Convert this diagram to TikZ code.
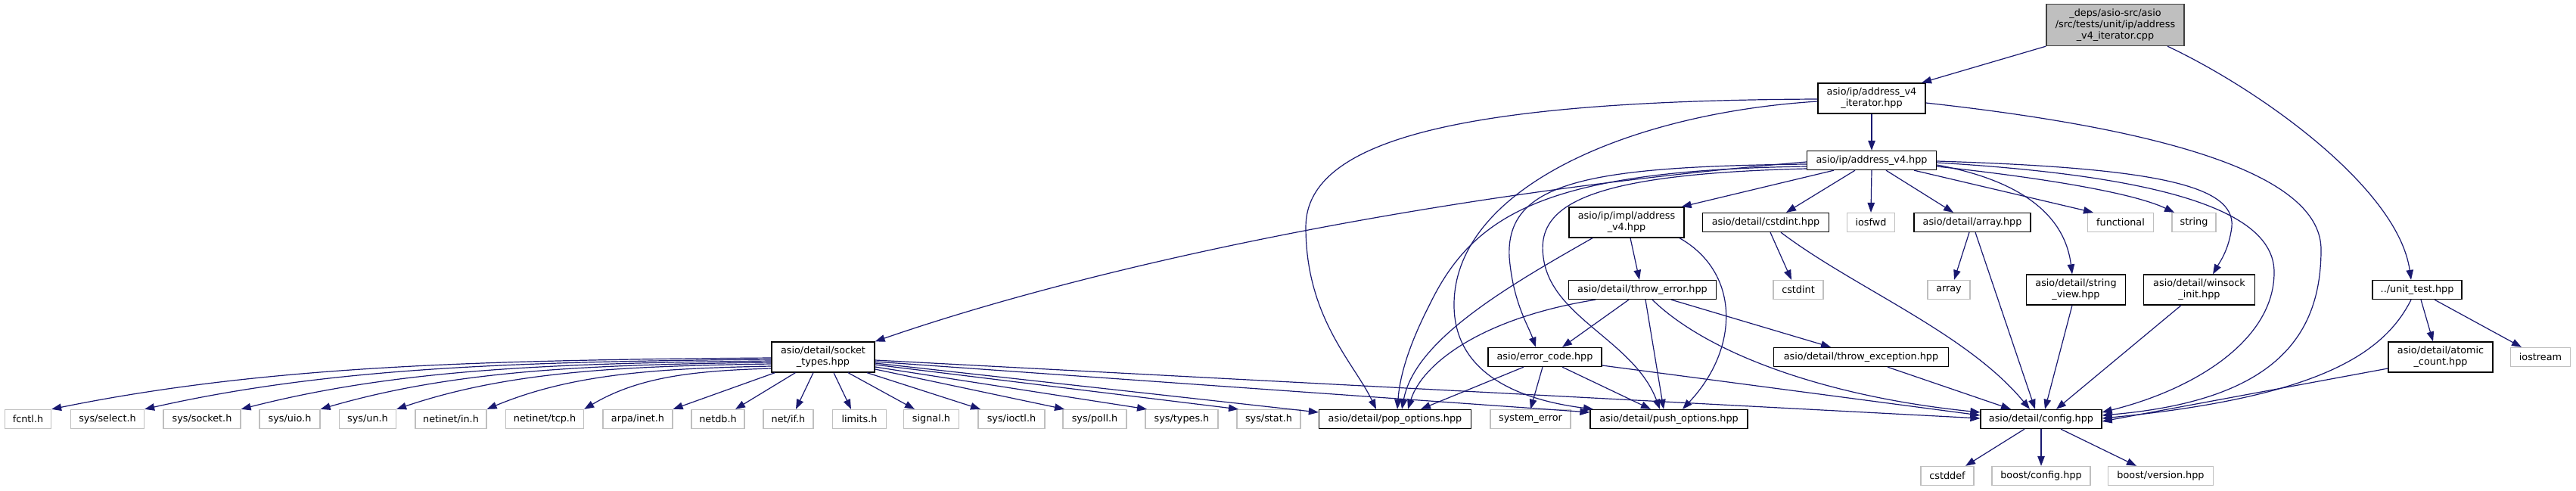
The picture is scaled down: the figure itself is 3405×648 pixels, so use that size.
\documentclass[tikz,border=0pt]{standalone}
\usepackage{fontspec}
\setmainfont{DejaVu Sans}
\usetikzlibrary{arrows.meta}
\definecolor{edgeblue}{HTML}{191970}
\definecolor{sysgray}{HTML}{BFBFBF}

\begin{document}
\begin{tikzpicture}[x=1pt, y=-1pt,
  font=\fontsize{12.8}{15}\selectfont,
  hdr/.style={draw=black, fill=white, line width=1.3pt, inner sep=0pt, minimum height=25pt, align=center},
  sysh/.style={hdr, draw=sysgray},
  rootf/.style={hdr, fill=sysgray, draw=black!75},
  incl/.style={draw=edgeblue, line width=1.2pt, -{Triangle[length=13pt, width=9.5pt]}}]

\useasboundingbox (0,0) rectangle (3405,648);

\node[rootf, minimum width=182pt, minimum height=55pt] (root) at (2796,33) {\_deps/asio-src/asio\\/src/tests/unit/ip/address\\\_v4\_iterator.cpp};

\node[hdr, minimum width=142pt, minimum height=40pt] (iter) at (2474,130) {asio/ip/address\_v4\\\_iterator.hpp};
\node[hdr, minimum width=171pt] (vfour) at (2474,212) {asio/ip/address\_v4.hpp};

\node[hdr, minimum width=152pt, minimum height=40pt] (impl) at (2150,294) {asio/ip/impl/address\\\_v4.hpp};
\node[hdr, minimum width=167pt] (cstdinth) at (2334,294) {asio/detail/cstdint.hpp};
\node[sysh, minimum width=63pt] (iosfwd) at (2473,294) {iosfwd};
\node[hdr, minimum width=154pt] (arrayh) at (2607,294) {asio/detail/array.hpp};
\node[sysh, minimum width=87pt] (functional) at (2803,294) {functional};
\node[sysh, minimum width=58pt] (string) at (2900,294) {string};

\node[hdr, minimum width=195pt] (throwerr) at (2171,383) {asio/detail/throw\_error.hpp};
\node[sysh, minimum width=66pt] (cstdint) at (2377,383) {cstdint};
\node[sysh, minimum width=56pt] (array) at (2576,383) {array};
\node[hdr, minimum width=131pt, minimum height=40pt] (strview) at (2744,383) {asio/detail/string\\\_view.hpp};
\node[hdr, minimum width=147pt, minimum height=40pt] (winsock) at (2907,383) {asio/detail/winsock\\\_init.hpp};
\node[hdr, minimum width=118pt] (unittest) at (3195,383) {../unit\_test.hpp};

\node[hdr, minimum width=136pt, minimum height=40pt] (socktypes) at (1088,472) {asio/detail/socket\\\_types.hpp};
\node[hdr, minimum width=150pt] (errcode) at (2042,472) {asio/error\_code.hpp};
\node[hdr, minimum width=231pt] (throwexc) at (2460,472) {asio/detail/throw\_exception.hpp};
\node[hdr, minimum width=138pt, minimum height=40pt] (atomic) at (3226,472) {asio/detail/atomic\\\_count.hpp};
\node[sysh, minimum width=79pt] (iostream) at (3358,472) {iostream};

\node[sysh, minimum width=61pt] (fcntl) at (37,554) {fcntl.h};
\node[sysh, minimum width=97pt] (sysselect) at (142,554) {sys/select.h};
\node[sysh, minimum width=102pt] (syssocket) at (267,554) {sys/socket.h};
\node[sysh, minimum width=80pt] (sysuio) at (383,554) {sys/uio.h};
\node[sysh, minimum width=75pt] (sysun) at (486,554) {sys/un.h};
\node[sysh, minimum width=94pt] (netin) at (596,554) {netinet/in.h};
\node[sysh, minimum width=103pt] (nettcp) at (720,554) {netinet/tcp.h};
\node[sysh, minimum width=92pt] (arpainet) at (843,554) {arpa/inet.h};
\node[sysh, minimum width=70pt] (netdb) at (949,554) {netdb.h};
\node[sysh, minimum width=66pt] (netif) at (1042,554) {net/if.h};
\node[sysh, minimum width=71pt] (limits) at (1136,554) {limits.h};
\node[sysh, minimum width=73pt] (signal) at (1231,554) {signal.h};
\node[sysh, minimum width=88pt] (sysioctl) at (1337,554) {sys/ioctl.h};
\node[sysh, minimum width=84pt] (syspoll) at (1447,554) {sys/poll.h};
\node[sysh, minimum width=96pt] (systypes) at (1562,554) {sys/types.h};
\node[sysh, minimum width=84pt] (sysstat) at (1677,554) {sys/stat.h};
\node[hdr, minimum width=201pt] (popopt) at (1844,554) {asio/detail/pop\_options.hpp};
\node[sysh, minimum width=106pt] (syserr) at (2023,554) {system\_error};
\node[hdr, minimum width=208pt] (pushopt) at (2206,554) {asio/detail/push\_options.hpp};
\node[hdr, minimum width=160pt] (config) at (2698,554) {asio/detail/config.hpp};

\node[sysh, minimum width=70pt] (cstddef) at (2574,629) {cstddef};
\node[sysh, minimum width=130pt] (boostcfg) at (2698,629) {boost/config.hpp};
\node[sysh, minimum width=139pt] (boostver) at (2856,629) {boost/version.hpp};

\draw[incl] (root.south west) -- ([xshift=66pt]iter.north);
\draw[incl] ([xshift=69pt]root.south) .. controls (2990,120) and (3170,250) .. ([xshift=-8pt]unittest.north);

\draw[incl] (iter) -- (vfour);
\draw[incl] ([yshift=-1pt]iter.west) .. controls (1950,133) and (1726,180) .. (1726,300) .. controls (1726,420) and (1790,480) .. ([xshift=-25pt]popopt.north);
\draw[incl] ([yshift=-4pt]iter.west) .. controls (2150,150) and (1925,250) .. (1922,400) .. controls (1920,500) and (2020,530) .. ([xshift=-100pt]pushopt.north);
\draw[incl] ([yshift=-6pt]iter.east) .. controls (2900,175) and (3068,240) .. (3068,330) .. controls (3068,450) and (3000,530) .. ([yshift=5pt]config.east);

\draw[incl] ([yshift=-2pt]vfour.west) .. controls (1900,255) and (1450,350) .. (socktypes.north east);
\draw[incl] ([yshift=-5pt]vfour.west) .. controls (2100,220) and (1990,240) .. (1995,340) .. controls (2000,400) and (2020,430) .. ([xshift=-12pt]errcode.north);
\draw[incl] ([yshift=-8pt]vfour.west) .. controls (2050,225) and (1950,280) .. (1891,400) .. controls (1860,460) and (1850,500) .. ([xshift=3pt]popopt.north);
\draw[incl] ([yshift=-11pt]vfour.west) .. controls (2100,230) and (2030,270) .. (2040,340) .. controls (2050,420) and (2160,450) .. ([xshift=-12pt]pushopt.north);
\draw[incl] ([xshift=-50pt]vfour.south) -- ([xshift=-4pt]impl.north east);
\draw[incl] ([xshift=-22pt]vfour.south) -- ([xshift=27pt]cstdinth.north);
\draw[incl] (vfour.south) -- (iosfwd.north);
\draw[incl] ([xshift=19pt]vfour.south) -- ([xshift=-25pt]arrayh.north);
\draw[incl] ([xshift=56pt]vfour.south) -- ([xshift=-36pt]functional.north);
\draw[incl] ([yshift=-8pt]vfour.east) .. controls (2700,235) and (2820,255) .. ([xshift=-26pt]string.north);
\draw[incl] ([yshift=-6pt]vfour.east) .. controls (2680,240) and (2730,290) .. ([xshift=-5pt]strview.north);
\draw[incl] ([yshift=-1pt]vfour.east) .. controls (2850,222) and (2955,245) .. (2950,300) .. controls (2946,330) and (2935,345) .. ([xshift=18pt]winsock.north);
\draw[incl] ([yshift=-3pt]vfour.east) .. controls (2900,235) and (3006,290) .. (3006,360) .. controls (3006,450) and (2900,515) .. ([yshift=9pt]config.east);

\draw[incl] ([xshift=-45pt]impl.south) .. controls (1990,380) and (1870,450) .. ([xshift=9pt]popopt.north);
\draw[incl] ([xshift=5pt]impl.south) -- ([xshift=-4pt]throwerr.north);
\draw[incl] ([xshift=70pt]impl.south) .. controls (2300,360) and (2300,460) .. ([xshift=18pt]pushopt.north);

\draw[incl] ([xshift=6pt]cstdinth.south) -- ([xshift=-9pt]cstdint.north);
\draw[incl] ([xshift=20pt]cstdinth.south) .. controls (2450,380) and (2600,440) .. ([xshift=-15pt]config.north);
\draw[incl] ([xshift=-4pt]arrayh.south) -- ([xshift=7pt]array.north);
\draw[incl] ([xshift=4pt]arrayh.south) -- ([xshift=-8pt]config.north);
\draw[incl] ([xshift=-5pt]strview.south) -- ([xshift=5pt]config.north);
\draw[incl] ([xshift=-24pt]winsock.south) -- ([xshift=20pt]config.north);

\draw[incl] ([xshift=-62pt]throwerr.south) .. controls (1960,420) and (1880,480) .. ([xshift=17pt]popopt.north);
\draw[incl] ([xshift=-18pt]throwerr.south) -- ([xshift=23pt]errcode.north);
\draw[incl] ([xshift=4pt]throwerr.south) -- ([xshift=-7pt]pushopt.north);
\draw[incl] ([xshift=13pt]throwerr.south) .. controls (2260,470) and (2420,525) .. ([yshift=9pt]config.west);
\draw[incl] ([xshift=38pt]throwerr.south) -- ([xshift=-40pt]throwexc.north);

\draw[incl] ([xshift=-28pt]errcode.south) -- ([xshift=34pt]popopt.north);
\draw[incl] ([xshift=-3pt]errcode.south) -- (syserr.north);
\draw[incl] ([xshift=23pt]errcode.south) -- ([xshift=-24pt]pushopt.north);
\draw[incl] ([yshift=-11pt]errcode.east) -- ([yshift=5pt]config.west);
\draw[incl] ([xshift=35pt]throwexc.south) -- ([xshift=-40pt]config.north);

\draw[incl] ([yshift=-1pt]socktypes.west) .. controls (639,476) and (353,483) .. (fcntl.north east);
\draw[incl] ([yshift=-3pt]socktypes.west) .. controls (688,478) and (439,485) .. (sysselect.north east);
\draw[incl] ([yshift=-5pt]socktypes.west) .. controls (739,480) and (529,487) .. (syssocket.north east);
\draw[incl] ([yshift=-7pt]socktypes.west) .. controls (781,482) and (602,489) .. (sysuio.north east);
\draw[incl] ([yshift=-9pt]socktypes.west) .. controls (821,484) and (672,491) .. (sysun.north east);
\draw[incl] ([yshift=-12pt]socktypes.west) .. controls (869,487) and (756,494) .. (netin.north east);
\draw[incl] ([yshift=-15pt]socktypes.west) .. controls (921,490) and (846,497) .. (nettcp.north east);
\draw[incl] ([xshift=5pt]socktypes.south west) -- (arpainet.north east);
\draw[incl] ([xshift=32pt]socktypes.south west) -- ([xshift=23pt]netdb.north);
\draw[incl] ([xshift=-13pt]socktypes.south) -- ([xshift=10pt]netif.north);
\draw[incl] ([xshift=14pt]socktypes.south) -- ([xshift=-11pt]limits.north);
\draw[incl] ([xshift=33pt]socktypes.south) -- ([xshift=-22pt]signal.north);
\draw[incl] ([xshift=58pt]socktypes.south) -- ([xshift=-41pt]sysioctl.north);
\draw[incl] ([yshift=-16pt]socktypes.east) -- ([xshift=-40pt]syspoll.north);
\draw[incl] ([yshift=-13pt]socktypes.east) -- ([xshift=-46pt]systypes.north);
\draw[incl] ([yshift=-10pt]socktypes.east) -- ([xshift=-40pt]sysstat.north);
\draw[incl] ([yshift=-8pt]socktypes.east) -- ([yshift=9pt]popopt.west);
\draw[incl] ([yshift=-6pt]socktypes.east) -- ([yshift=9pt]pushopt.west);
\draw[incl] ([yshift=-4pt]socktypes.east) -- ([yshift=1pt]config.west);

\draw[incl] ([xshift=5pt]unittest.south) -- ([xshift=-10pt]atomic.north);
\draw[incl] ([xshift=23pt]unittest.south) -- ([xshift=-25pt]iostream.north);
\draw[incl] ([xshift=-8pt]unittest.south) .. controls (3150,470) and (3060,525) .. ([yshift=1pt]config.east);
\draw[incl] ([yshift=-15pt]atomic.west) -- ([yshift=-3pt]config.east);

\draw[incl] ([xshift=-22pt]config.south) -- ([xshift=24pt]cstddef.north);
\draw[incl] (config.south) -- (boostcfg.north);
\draw[incl] ([xshift=26pt]config.south) -- ([xshift=-32pt]boostver.north);

\end{tikzpicture}
\end{document}
